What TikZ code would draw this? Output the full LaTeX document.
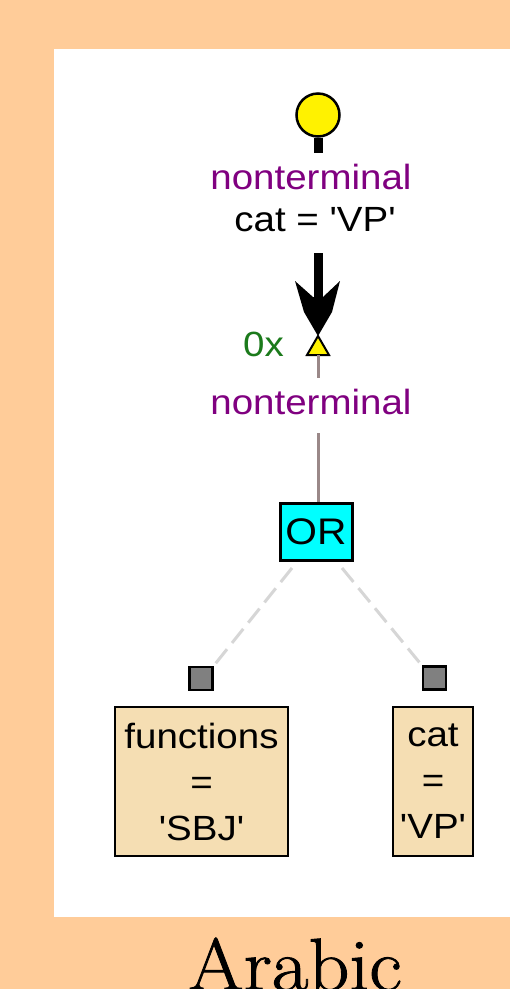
\documentclass[tikz,border=0pt]{standalone}
\usepackage{fontspec}
\newfontfamily\diagfont{Liberation Sans}[FakeStretch=1.1]
\newfontfamily\capfont{Latin Modern Roman}[FakeStretch=1.08, FakeBold=1.2]
\definecolor{pagebg}{HTML}{FFCC99}
\definecolor{ntpurple}{HTML}{800080}
\definecolor{countgreen}{HTML}{1B7A1B}
\definecolor{edgebrown}{HTML}{9A8888}
\definecolor{dashgray}{HTML}{D6D6D6}
\definecolor{condfill}{HTML}{F5DEB3}
\definecolor{orfill}{HTML}{00FFFF}
\definecolor{portgray}{HTML}{808080}
\tikzset{
  lbl/.style={font=\diagfont\fontsize{35}{41}\selectfont, inner sep=0pt, align=center},
  ntlabel/.style={lbl, text=ntpurple},
  condbox/.style={draw=black, line width=2.5pt, fill=condfill, inner sep=0pt, minimum height=149pt,
                  align=center, font=\diagfont\fontsize{35}{46}\selectfont},
  orbox/.style={draw=black, line width=3pt, fill=orfill, minimum width=72pt, minimum height=57pt,
                inner sep=0pt, font=\diagfont\fontsize{37}{41}\selectfont},
  port/.style={draw=black, line width=2.5pt, fill=portgray, minimum size=23pt, inner sep=0pt},
  thinedge/.style={draw=edgebrown, line width=3pt},
  dashedge/.style={draw=dashgray, line width=3pt, dash pattern=on 18pt off 8pt},
}
\begin{document}
\begin{tikzpicture}[x=1pt, y=-1pt]
  \useasboundingbox (0,0) rectangle (510,989);
  \fill[pagebg] (0,0) rectangle (510,989);
  \fill[white] (54,49) rectangle (510,917);

  % root node: yellow bulb on a stem
  \node[circle, draw=black, line width=2.5pt, fill=yellow, minimum size=43pt, inner sep=0pt] (root) at (318,115) {};
  \coordinate (stemend) at (318,153);
  \draw[line width=9pt] (root.south) -- (stemend);

  \node[ntlabel, anchor=base] (rootlbl) at (311,189) {nonterminal};
  \node[lbl, anchor=base] (rootcat) at (315,231) {cat = 'VP'};

  % quantified edge with barbed arrowhead
  \coordinate (shafttop) at (318,253);
  \coordinate (tip) at (318,336);
  \draw[line width=9pt] (shafttop) -- (318,300);
  \fill[black] (tip) -- (304,312) -- (295,281) -- (313,297) -- (323,297)
               -- (340,281) -- (332,312) -- cycle;

  % child connector triangle
  \coordinate (tribase) at (318,355);
  \draw[line width=2pt, fill=yellow, line join=miter] (tip) -- (307,355) -- (329,355) -- cycle;
  \node[lbl, text=countgreen, anchor=base east] (count) at (284,356) {0x};
  \coordinate (childtop) at (318,378);
  \draw[thinedge] (tribase) -- (childtop);

  \node[ntlabel, anchor=base] (childlbl) at (311,414) {nonterminal};
  \coordinate (orlinetop) at (318,433);

  % disjunction
  \node[orbox] (or) at (316,531.5) {OR};
  \draw[thinedge] (orlinetop) -- (or.north -| orlinetop);

  \node[port] (pl) at (201,678.5) {};
  \node[port] (pr) at (434.5,678) {};
  \coordinate (orl) at (292,568);
  \coordinate (orr) at (342,568);
  \draw[dashedge] (orl) -- (pl.north east);
  \draw[dashedge] (orr) -- (pr.north west);

  % attribute conditions
  \node[condbox, minimum width=173pt] (fn) at (201.5,781.5) {functions\\=\\'SBJ'};
  \node[condbox, minimum width=80pt] (cat) at (433,781.5) {cat\\=\\'VP'};

  \node[font=\capfont\fontsize{74}{74}\selectfont, anchor=base, inner sep=0pt] (caption) at (295,990) {Arabic};
\end{tikzpicture}
\end{document}
